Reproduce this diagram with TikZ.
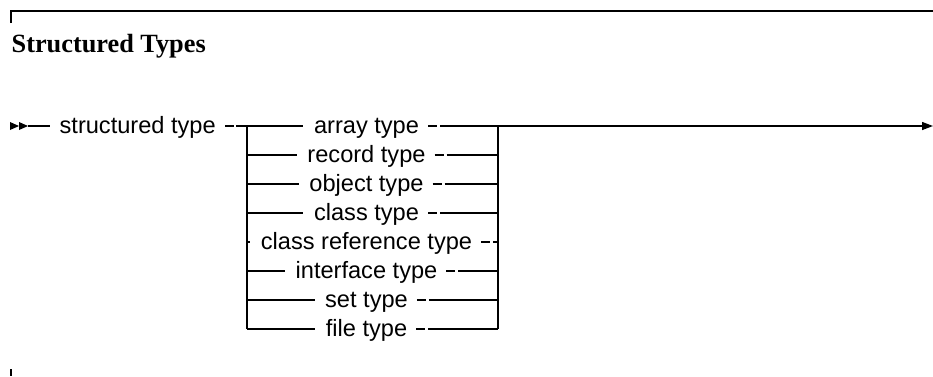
\documentclass[tikz,border=0pt]{standalone}
\usepackage{fontspec}
\setmainfont{Liberation Serif}
\setsansfont{Liberation Sans}
\usetikzlibrary{calc,arrows.meta}
\begin{document}
\begin{tikzpicture}[x=1pt,y=-1pt,line width=1.3pt,
  lab/.style={font=\sffamily\fontsize{23.6}{28}\selectfont,inner sep=0pt,anchor=base},
  ttl/.style={font=\rmfamily\bfseries\fontsize{26.3}{30}\selectfont,inner sep=0pt,anchor=base west},
  endtip/.style={-{Triangle[length=11pt,width=8pt]}},
  rail/.style={line width=1.1pt}]
\useasboundingbox (0,0) rectangle (933,376);
% frame marks
\coordinate (tl) at (11,11);
\coordinate (tr) at (933,11);
\coordinate (tlb) at (11,23);
\coordinate (bl) at (11,369);
\coordinate (blb) at (11,376);
\draw (tlb) -- (tl) -- (tr);
\draw (bl) -- (blb);
\node[ttl] (title) at (11,52) {Structured Types};
% start double arrowhead
\coordinate (a1) at (10,126);
\coordinate (a2) at (19,126);
\coordinate (a3) at (28,126);
\fill (a1) ++(0,-4) -- (a2) -- ($(a1)+(0,4)$) -- cycle;
\fill (a2) ++(0,-4) -- (a3) -- ($(a2)+(0,4)$) -- cycle;
% main entry
\node[lab] (st) at (59,133) [anchor=base west] {structured type};
\coordinate (Ltop) at (247,126);
\coordinate (Lbot) at (247,329);
\coordinate (Rtop) at (498,126);
\coordinate (Rbot) at (498,329);
\coordinate (exit) at (933,126);
\draw (a3) -- ($(st.base west)+(-9,-7)$);
\draw ($(st.base east)+(9,-7)$) -- ++(9,0);
\draw ($(st.base east)+(20,-7)$) -- (Ltop);
\draw[rail] (Ltop) -- (Lbot);
\draw[rail] (Rtop) -- (Rbot);
\draw[endtip] (Rtop) -- (exit);
\foreach \i/\t in {1/array type,2/record type,3/object type,4/class type,5/class reference type,6/interface type,7/set type,8/file type}{
  \pgfmathsetmacro\yy{126+29*(\i-1)}
  \node[lab] (r\i) at (366.5,\yy+7) {\t};
  \coordinate (l\i) at (247,\yy);
  \coordinate (q\i) at (498,\yy);
  \draw (l\i) -- ($(r\i.base west)+(-10,-7)$);
  \draw ($(r\i.base east)+(8.5,-7)$) -- ++(9,0);
  \draw ($(r\i.base east)+(20.5,-7)$) -- (q\i);
}
\end{tikzpicture}
\end{document}
